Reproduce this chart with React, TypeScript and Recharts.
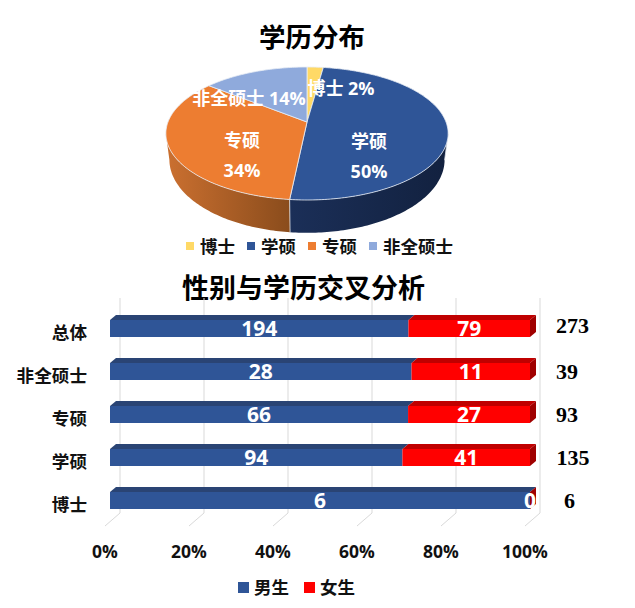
import React from 'react'
import { PieChart, Pie, Cell, BarChart, Bar, XAxis, YAxis, CartesianGrid, Legend, LabelList } from 'recharts'

const FONT = '"Open Sans", "Noto Sans CJK SC", sans-serif'

// 学历分布
const degreeNames = ['博士', '学硕', '专硕', '非全硕士']
const degreeCounts = [6, 135, 93, 39]
const degreePercents = ['2%', '50%', '34%', '14%']
const degreeColors = ['#FFD966', '#2F5597', '#ED7D31', '#8FAADC']

// 性别与学历交叉分析
const crossNames = ['总体', '非全硕士', '专硕', '学硕', '博士']
const maleCounts = [194, 28, 66, 94, 6]
const femaleCounts = [79, 11, 27, 41, 0]
const totalCounts = [273, 39, 93, 135, 6]
const percentTicks = [0, 0.2, 0.4, 0.6, 0.8, 1]

const pieData = degreeNames.map((name, i) => ({ name, value: degreeCounts[i] }))
const barData = crossNames.map((name, i) => ({ name, male: maleCounts[i], female: femaleCounts[i] }))

// 饼图透视参数
const TILT = 0.173
const SCALE_X = 1.39
const SCALE_Y = 0.645

const toPoint = (deg: number, cx: number, cy: number, r: number) => {
	const rad = (deg * Math.PI) / 180
	const u = Math.cos(rad)
	const v = -Math.sin(rad)
	const w = 1 - TILT * v
	return { x: cx + (r * SCALE_X * u) / w, y: cy + (r * SCALE_Y * v) / w, v }
}

const toLower = (p: { x: number; y: number }, cx: number, cy: number) => ({
	x: cx + (p.x - cx) * 0.975,
	y: cy + (p.y - cy) * 1.1 + 25,
})

const sweep = (start: number, end: number) => {
	const out: number[] = []
	const n = Math.max(2, Math.ceil(Math.abs(end - start)))
	for (let i = 0; i <= n; i++) out.push(start + ((end - start) * i) / n)
	return out
}

const PieTop = (props: any) => {
	const { cx, cy, outerRadius, startAngle, endAngle, fill } = props
	const pts = sweep(startAngle, endAngle).map((a) => toPoint(a, cx, cy, outerRadius))
	const d = `M${cx},${cy} ` + pts.map((p) => `L${p.x.toFixed(2)},${p.y.toFixed(2)}`).join(' ') + ' Z'
	return <path d={d} fill={fill} stroke="#e8edf5" strokeWidth={0.8} strokeLinejoin="round" />
}

const PieWall = (props: any) => {
	const { cx, cy, outerRadius, startAngle, endAngle, index } = props
	const pts = sweep(startAngle, endAngle)
		.map((a) => toPoint(a, cx, cy, outerRadius))
		.filter((p) => p.v >= TILT)
	if (pts.length < 2) return null
	const low = pts.map((p) => toLower(p, cx, cy)).reverse()
	const d = 'M' + [...pts, ...low].map((p) => `${p.x.toFixed(2)},${p.y.toFixed(2)}`).join(' L') + ' Z'
	const first = pts[0]
	const firstLow = toLower(first, cx, cy)
	return (
		<g>
			<path d={d} fill={`url(#wall${index})`} />
			<line x1={first.x} y1={first.y} x2={firstLow.x} y2={firstLow.y} stroke="#dfe3ea" strokeWidth={0.8} />
		</g>
	)
}

const labelSpots = [
	{ x: 34, y: -34 },
	{ x: 62, y: 19 },
	{ x: -65, y: 18 },
	{ x: -58, y: -24 },
]

const renderPieLabel = (props: any) => {
	const { cx, cy, index, name } = props
	const spot = labelSpots[index]
	const percent = degreePercents[index]
	const inline = index === 0 || index === 3
	const style = { fontSize: 18, fontWeight: 700, fontFamily: FONT, fill: '#fff' }
	if (inline) {
		return (
			<text x={cx + spot.x} y={cy + spot.y} textAnchor="middle" dominantBaseline="central" style={style}>
				{`${name} ${percent}`}
			</text>
		)
	}
	return (
		<text textAnchor="middle" style={style}>
			<tspan x={cx + spot.x} y={cy + spot.y} dominantBaseline="central">{name}</tspan>
			<tspan x={cx + spot.x} y={cy + spot.y + 30} dominantBaseline="central">{percent}</tspan>
		</text>
	)
}

const LegendRow = ({ payload, size, gap, left, keep }: any) => (
	<div style={{ display: 'flex', alignItems: 'center', marginLeft: left, whiteSpace: 'nowrap', fontFamily: FONT, fontWeight: 700, fontSize: 17.5, color: '#111', lineHeight: '22px' }}>
		{keep.map((name: string) => {
			const item = (payload || []).find((p: any) => p.value === name && p.type !== 'none' && p.color !== '#808080')
			if (!item) return null
			return (
				<div key={name} style={{ display: 'flex', alignItems: 'center', marginRight: gap }}>
					<span style={{ width: size, height: size, background: item.color, marginRight: size === 8 ? 6 : 5, display: 'inline-block' }} />
					<span>{item.value}</span>
				</div>
			)
		})}
	</div>
)

const Bar3D = (props: any) => {
	const { x, y, width, height, fill, topFill, sideFill } = props
	const dx = 6
	const dy = 5
	return (
		<g>
			<polygon points={`${x},${y} ${x + dx},${y - dy} ${x + width + dx},${y - dy} ${x + width},${y}`} fill={topFill} />
			{sideFill && (
				<polygon
					points={`${x + width},${y} ${x + width + dx},${y - dy} ${x + width + dx},${y + height - dy} ${x + width},${y + height}`}
					fill={sideFill}
				/>
			)}
			{width > 0 && <rect x={x} y={y} width={width} height={height} fill={fill} />}
		</g>
	)
}

const GridLine = (props: any) => {
	const { x1, y1, y2 } = props
	return (
		<g stroke="#d9d9d9" strokeWidth={1}>
			<line x1={x1 + 10} y1={y1 - 9} x2={x1 + 10} y2={y2 - 9} />
			<line x1={x1 + 10} y1={y2 - 9} x2={x1 - 5} y2={y2 + 4} />
		</g>
	)
}

const totalOffsets = [0, 0, 0, 0.5, 8]

const renderTotal = (props: any) => {
	const { y, height, index } = props
	return (
		<text
			x={556 + totalOffsets[index]}
			y={y + height / 2 + (index === 0 ? -3 : 0)}
			dominantBaseline="central"
			style={{ fontFamily: '"Liberation Serif", serif', fontWeight: 700, fontSize: 22, fill: '#000' }}
		>
			{totalCounts[index]}
		</text>
	)
}

const Title = ({ text, center, top, size }: { text: string; center: number; top: number; size: number }) => (
	<div
		style={{
			position: 'absolute',
			left: center - 200,
			top: top - 20,
			width: 400,
			height: 40,
			lineHeight: '40px',
			textAlign: 'center',
			fontFamily: FONT,
			fontWeight: 700,
			fontSize: size,
			color: '#000',
		}}
	>
		{text}
	</div>
)

const barLabelStyle = { fill: '#fff', fontSize: 21, fontWeight: 700, fontFamily: FONT }

export default function App() {
	return (
		<div style={{ position: 'absolute', left: 0, top: 0, width: 635, height: 608, overflow: 'hidden', background: '#fff' }}>
			<Title text="学历分布" center={312} top={37} size={26.5} />
			<div style={{ position: 'absolute', left: 0, top: 0 }}>
				<PieChart width={635} height={262} margin={{ top: 0, right: 0, bottom: 0, left: 0 }}>
					<defs>
						<linearGradient id="wall1" x1="0" y1="0" x2="1" y2="0">
							<stop offset="0%" stopColor="#1B2F58" />
							<stop offset="100%" stopColor="#12213F" />
						</linearGradient>
						<linearGradient id="wall2" x1="0" y1="0" x2="1" y2="0">
							<stop offset="0%" stopColor="#CB7030" />
							<stop offset="100%" stopColor="#8A4C1C" />
						</linearGradient>
					</defs>
					<Pie
						data={pieData}
						dataKey="value"
						nameKey="name"
						cx={307}
						cy={122}
						outerRadius={100}
						startAngle={90}
						endAngle={-270}
						legendType="none"
						shape={PieWall}
						isAnimationActive={false}
					/>
					<Pie
						data={pieData}
						dataKey="value"
						nameKey="name"
						cx={307}
						cy={122}
						outerRadius={100}
						startAngle={90}
						endAngle={-270}
						shape={PieTop}
						label={renderPieLabel}
						labelLine={false}
						isAnimationActive={false}
					>
						{degreeColors.map((c) => (
							<Cell key={c} fill={c} />
						))}
					</Pie>
					<Legend
						content={<LegendRow size={8} gap={12} left={186} keep={degreeNames} />}
						wrapperStyle={{ position: 'absolute', left: 0, top: 235, width: 635 }}
					/>
				</PieChart>
			</div>
			<Title text="性别与学历交叉分析" center={303.5} top={288} size={27} />
			<div style={{ position: 'absolute', left: 0, top: 270 }}>
				<BarChart
					width={635}
					height={338}
					layout="vertical"
					data={barData}
					stackOffset="expand"
					barSize={17}
					margin={{ top: 37, right: 105, bottom: 34, left: 0 }}
				>
					<CartesianGrid horizontal={false} vertical={GridLine} />
					<XAxis
						type="number"
						domain={[0, 1]}
						ticks={percentTicks}
						tickFormatter={(v: number) => `${Math.round(v * 100)}%`}
						axisLine={false}
						tickLine={false}
						height={30}
						tickMargin={18}
						interval={0}
						tick={{ fill: '#111', fontSize: 17.5, fontWeight: 700, fontFamily: FONT, dx: -5 }}
					/>
					<YAxis
						type="category"
						dataKey="name"
						width={110}
						axisLine={false}
						tickLine={false}
						tickMargin={17}
						interval={0}
						tick={{ fill: '#111', fontSize: 17.6, fontWeight: 700, fontFamily: FONT, dy: 4.5 }}
					/>
					<Legend
						content={<LegendRow size={11} gap={15} left={238} keep={['男生', '女生']} />}
						wrapperStyle={{ position: 'absolute', left: 0, top: 306, width: 635 }}
					/>
					<Bar
						dataKey="male"
						name="男生"
						stackId="a"
						fill="#2F5597"
						shape={<Bar3D topFill="#2A4474" />}
						isAnimationActive={false}
					>
						<LabelList dataKey="male" position="center" dy={0} style={barLabelStyle} />
					</Bar>
					<Bar
						dataKey="female"
						name="女生"
						stackId="a"
						fill="#FF0000"
						shape={<Bar3D topFill="#C00000" sideFill="#A00000" />}
						isAnimationActive={false}
					>
						<LabelList dataKey="female" position="center" dy={0} style={barLabelStyle} />
						<LabelList dataKey="female" content={renderTotal} />
					</Bar>
				</BarChart>
			</div>
		</div>
	)
}
